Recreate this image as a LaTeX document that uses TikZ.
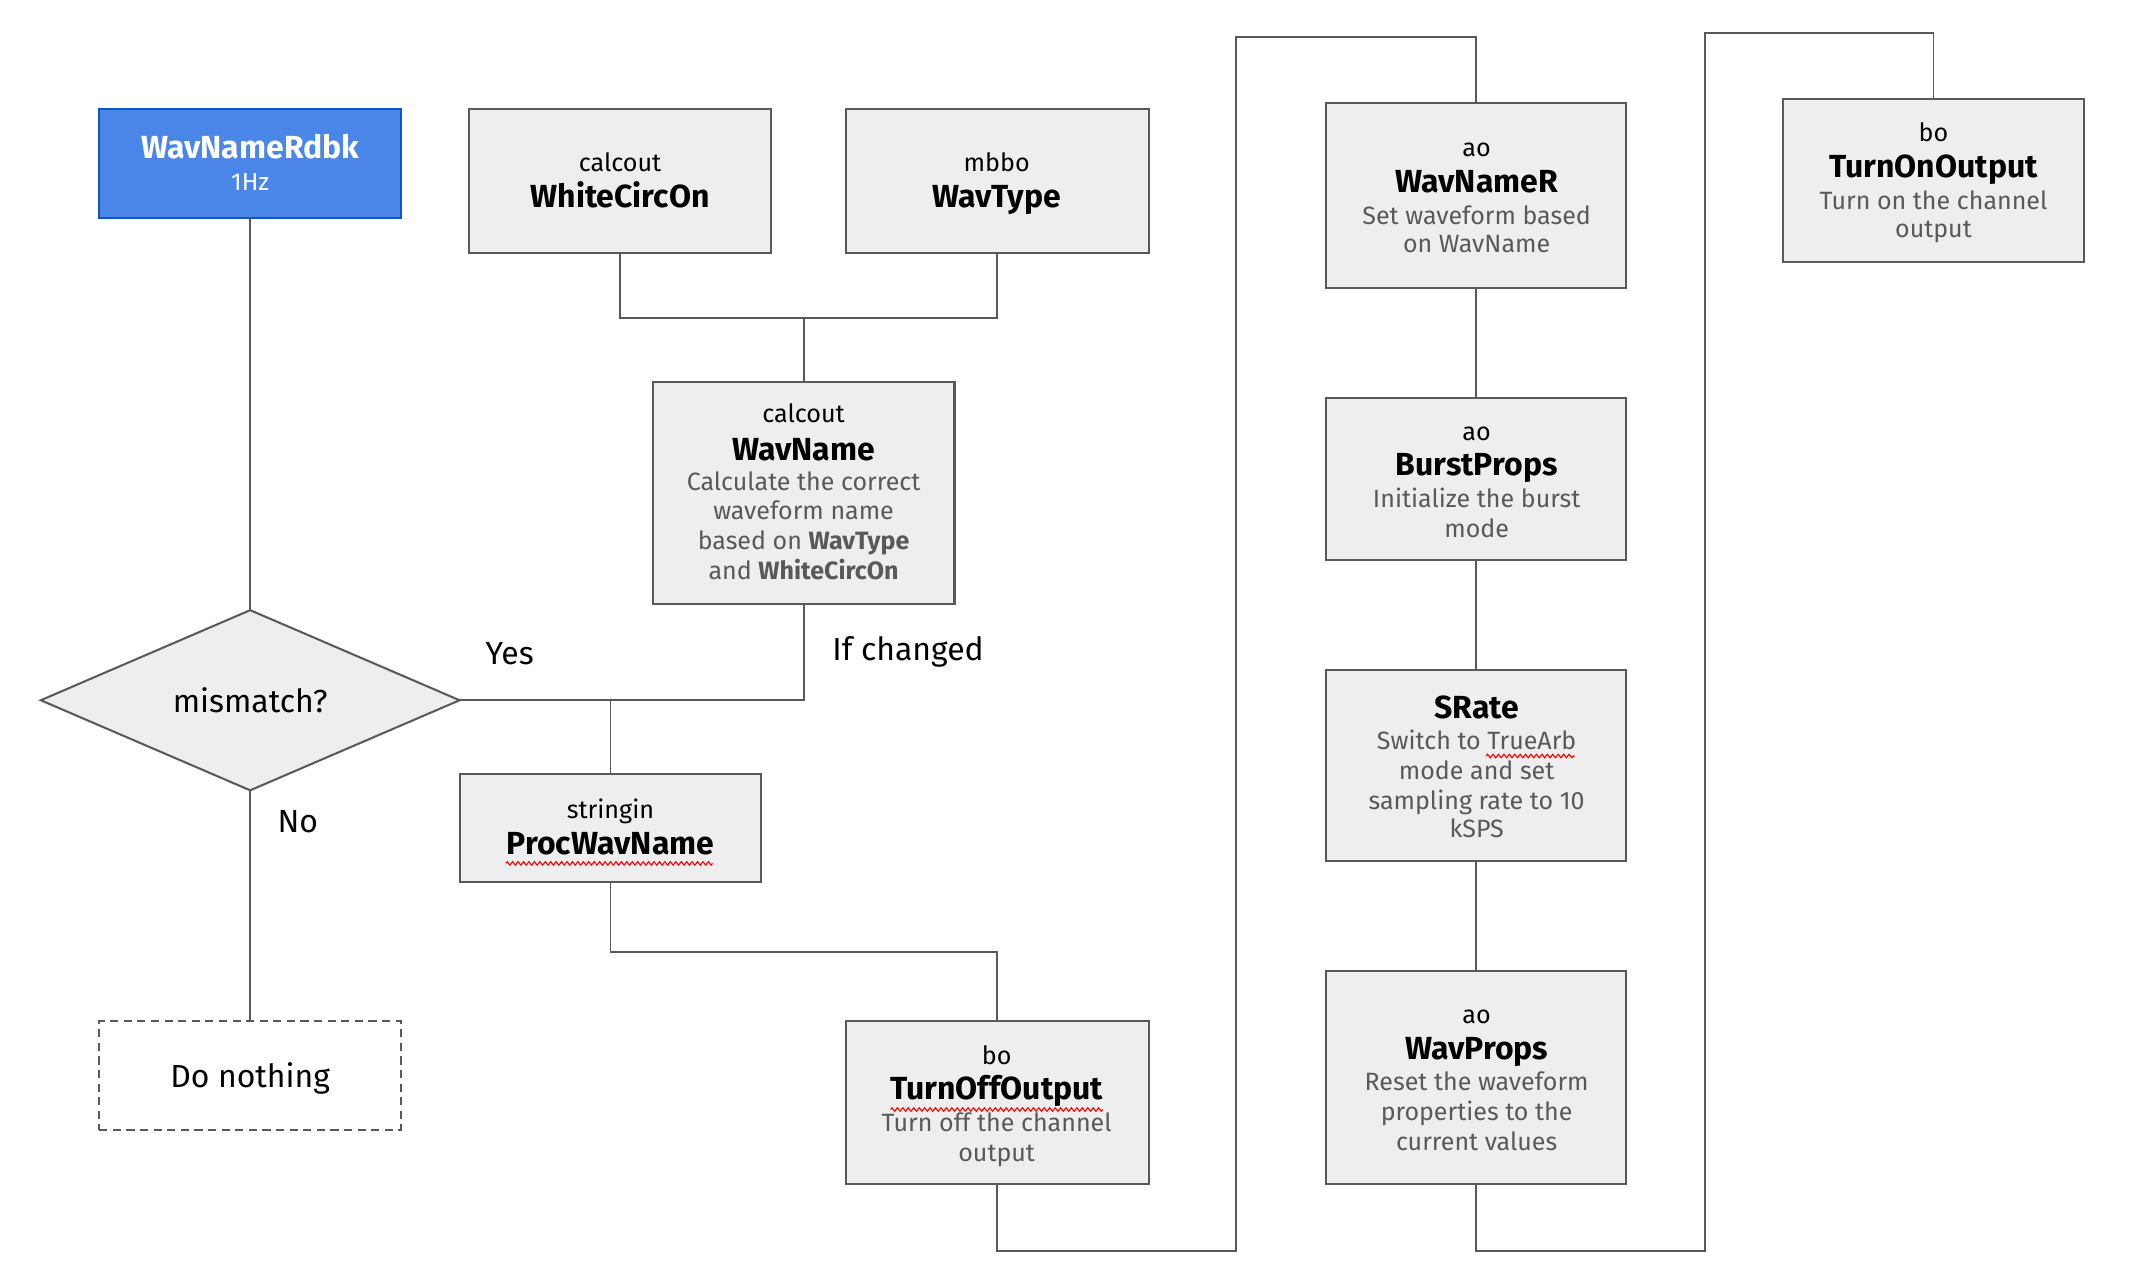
\documentclass[tikz,border=0pt]{standalone}
\usepackage{fontspec}
\setmainfont{Fira Sans}
\usetikzlibrary{shapes.geometric,decorations.pathmorphing}
\definecolor{boxfill}{HTML}{EEEEEE}
\definecolor{boxline}{HTML}{595959}
\definecolor{blfill}{HTML}{4A86E8}
\definecolor{blline}{HTML}{1155CC}
\definecolor{desc}{HTML}{595959}
\begin{document}
\begin{tikzpicture}[x=1pt,y=-1pt,
 box/.style={draw=boxline, fill=boxfill, line width=1.5pt, anchor=north west, inner sep=0pt, outer sep=0pt},
 conn/.style={draw=boxline, line width=1.4pt},
 typ/.style={anchor=base, inner sep=0pt, font=\fontsize{18.5}{22}\selectfont, text=black},
 ttl/.style={anchor=base, inner sep=0pt, font=\fontsize{23.5}{27}\selectfont\bfseries, text=black},
 dsc/.style={anchor=base, inner sep=0pt, font=\fontsize{18.4}{22}\selectfont, text=desc},
 lbl/.style={anchor=base west, inner sep=0pt, font=\fontsize{23.5}{27}\selectfont, text=black},
 squig/.style={draw=red, line width=0.8pt, decorate, decoration={zigzag, segment length=4pt, amplitude=1.3pt}}
]
\fill[white] (0,0) rectangle (1568,944.3);
\useasboundingbox (0,0) rectangle (1568,944.3);

% boxes
\node[box, draw=blline, fill=blfill, minimum width=222pt, minimum height=80pt] (rdbk) at (73,80) {};
\node[box, minimum width=222pt, minimum height=106pt] (wco) at (345,80) {};
\node[box, minimum width=223pt, minimum height=106pt] (wtype) at (622,80) {};
\node[box, minimum width=222pt, minimum height=163pt] (wname) at (480,281) {};
\node[box, minimum width=222pt, minimum height=80pt] (proc) at (338,569) {};
\node[box, fill=white, dashed, dash pattern=on 6pt off 4pt, minimum width=222pt, minimum height=80pt] (nothing) at (73,751) {};
\node[box, minimum width=223pt, minimum height=120pt] (off) at (622,751) {};
\node[box, minimum width=221pt, minimum height=136pt] (wnr) at (975,76) {};
\node[box, minimum width=221pt, minimum height=119pt] (burst) at (975,293) {};
\node[box, minimum width=221pt, minimum height=140pt] (srate) at (975,493) {};
\node[box, minimum width=221pt, minimum height=157pt] (wprops) at (975,714) {};
\node[box, minimum width=222pt, minimum height=120pt] (on) at (1311,73) {};
\node[diamond, draw=boxline, fill=boxfill, line width=1.5pt, minimum width=308pt, minimum height=127pt, inner sep=0pt, outer sep=0pt, font=\fontsize{23.5}{27}\selectfont] (mm) at (184,515) {mismatch?};

% junction coordinates
\coordinate (jn) at (591,234);
\coordinate (jy) at (449,515);
\coordinate (b1) at (909,920);
\coordinate (t1) at (909,27);
\coordinate (b2) at (1254,920);
\coordinate (t2) at (1254,24);

% connectors
\draw[conn] (rdbk.south) -- (mm.north);
\draw[conn] (wco.south) |- (jn) -| (wtype.south);
\draw[conn] (jn) -- (wname.north);
\draw[conn] (wname.south) |- (mm.east);
\draw[conn] (jy) -- (proc.north);
\draw[conn] (mm.south) -- (nothing.north);
\draw[conn] (proc.south) -- ++(0,51) -| (off.north);
\draw[conn] (off.south) |- (b1) -- (t1) -| (wnr.north);
\draw[conn] (wnr.south) -- (burst.north);
\draw[conn] (burst.south) -- (srate.north);
\draw[conn] (srate.south) -- (wprops.north);
\draw[conn] (wprops.south) |- (b2) -- (t2) -| (on.north);

% texts
\node[ttl, text=white] (rdbk-t) at (184,116.5) {WavNameRdbk};
\node[typ, text=white, font=\fontsize{18}{21}\selectfont] (rdbk-s) at (184,140) {1Hz};

\node[typ] (wco-a) at (456,126) {calcout};
\node[ttl] (wco-t) at (456,152.5) {WhiteCircOn};

\node[typ] (wtype-a) at (733,126) {mbbo};
\node[ttl] (wtype-t) at (733,152.5) {WavType};

\node[typ] (wname-a) at (591,311) {calcout};
\node[ttl] (wname-t) at (591,338.5) {WavName};
\node[dsc] (wname-d1) at (591,361) {Calculate the correct};
\node[dsc] (wname-d2) at (591,382) {waveform name};
\node[dsc] (wname-d3) at (591,404) {based on \textbf{WavType}};
\node[dsc] (wname-d4) at (591,426) {and \textbf{WhiteCircOn}};

\node[typ] (proc-a) at (449,602) {stringin};
\node[ttl] (proc-t) at (449,628.5) {ProcWavName};

\node[lbl, anchor=base] (nothing-t) at (184,800) {Do nothing};

\node[typ] (off-a) at (733,783) {bo};
\node[ttl] (off-t) at (733,808.5) {TurnOffOutput};
\node[dsc] (off-d1) at (733,832) {Turn off the channel};
\node[dsc] (off-d2) at (733,854) {output};

\node[typ] (wnr-a) at (1086,115) {ao};
\node[ttl] (wnr-t) at (1086,141.5) {WavNameR};
\node[dsc] (wnr-d1) at (1086,165) {Set waveform based};
\node[dsc] (wnr-d2) at (1086,186) {on WavName};

\node[typ] (burst-a) at (1086,324) {ao};
\node[ttl] (burst-t) at (1086,349.5) {BurstProps};
\node[dsc] (burst-d1) at (1086,373) {Initialize the burst};
\node[dsc] (burst-d2) at (1086,395) {mode};

\node[ttl] (srate-t) at (1086,528.5) {SRate};
\node[dsc] (srate-d1) at (1086,551) {Switch to TrueArb};
\node[dsc] (srate-d2) at (1086,573) {mode and set};
\node[dsc] (srate-d3) at (1086,595) {sampling rate to 10};
\node[dsc] (srate-d4) at (1086,616) {kSPS};

\node[typ] (wprops-a) at (1086,753) {ao};
\node[ttl] (wprops-t) at (1086,779.5) {WavProps};
\node[dsc] (wprops-d1) at (1086,802) {Reset the waveform};
\node[dsc] (wprops-d2) at (1086,824) {properties to the};
\node[dsc] (wprops-d3) at (1086,846) {current values};

\node[typ] (on-a) at (1422,104) {bo};
\node[ttl] (on-t) at (1422,130.5) {TurnOnOutput};
\node[dsc] (on-d1) at (1422,154) {Turn on the channel};
\node[dsc] (on-d2) at (1422,175) {output};

% edge labels
\node[lbl] (yes) at (357,489) {Yes};
\node[lbl] (chg) at (612,486) {If changed};
\node[lbl] (no) at (204,612) {No};

% spell-check squiggles
\draw[squig] (372,635) -- (524,635);
\draw[squig] (655,816) -- (811,816);
\draw[squig] (1093,556) -- (1158,556);
\end{tikzpicture}
\end{document}
